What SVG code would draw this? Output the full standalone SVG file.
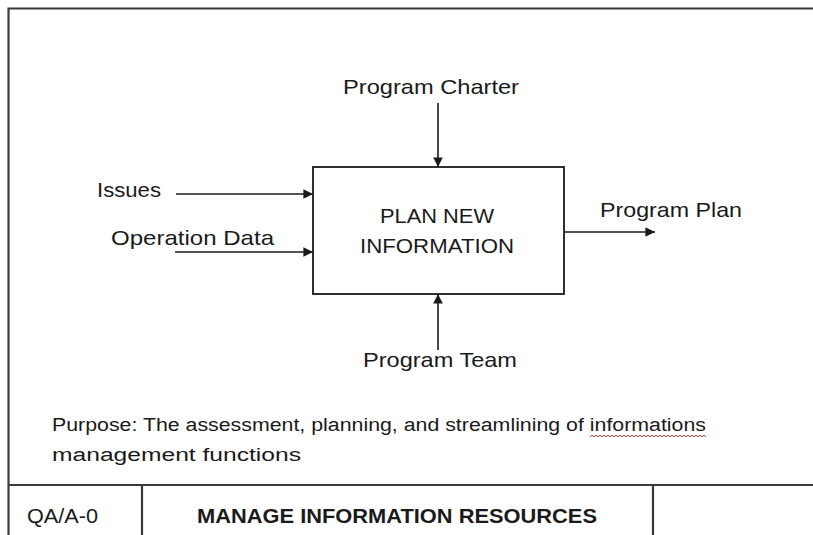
<svg xmlns="http://www.w3.org/2000/svg" width="813" height="535" viewBox="0 0 813 535">
  <style>
    .frame { fill: none; stroke: #3a3a3a; stroke-width: 2.2; }
    .box { fill: #ffffff; stroke: #1a1a1a; stroke-width: 1.8; }
    .wire { fill: none; stroke: #1a1a1a; stroke-width: 1.6; marker-end: url(#head); }
    .lbl { font-family: "Liberation Sans", Arial, sans-serif; font-size: 21px; fill: #1a1a1a; }
    .note { font-family: "Liberation Sans", Arial, sans-serif; font-size: 18px; fill: #1a1a1a; }
    .title { font-family: "Liberation Sans", Arial, sans-serif; font-size: 20px; font-weight: bold; fill: #1a1a1a; }
  </style>
  <defs>
    <marker id="head" viewBox="0 0 10 10" refX="10" refY="5" markerWidth="6" markerHeight="6" markerUnits="strokeWidth" orient="auto">
      <path d="M0,0 L10,5 L0,10 Z" fill="#1a1a1a"/>
    </marker>
  </defs>
  <rect width="813" height="535" fill="#ffffff"/>

  <!-- sheet frame and title block -->
  <g id="frame">
    <path class="frame" d="M8.5,540 V8.5 H820"/>
    <path class="frame" d="M8.5,485 H820"/>
    <path class="frame" d="M142,485 V540"/>
    <path class="frame" d="M653,485 V540"/>
    <text class="lbl" x="27" y="523" textLength="71" lengthAdjust="spacingAndGlyphs">QA/A-0</text>
    <text class="title" x="197" y="523" textLength="400" lengthAdjust="spacingAndGlyphs">MANAGE INFORMATION RESOURCES</text>
  </g>

  <!-- activity box -->
  <g id="plan-new-information">
    <rect class="box" x="313" y="167" width="251" height="127"/>
    <text class="lbl" x="437" y="223" text-anchor="middle" textLength="114" lengthAdjust="spacingAndGlyphs">PLAN NEW</text>
    <text class="lbl" x="437" y="253" text-anchor="middle" textLength="154" lengthAdjust="spacingAndGlyphs">INFORMATION</text>
  </g>

  <!-- ICOM labels -->
  <g id="program-charter">
    <text class="lbl" x="343" y="94" textLength="176" lengthAdjust="spacingAndGlyphs">Program Charter</text>
  </g>
  <g id="issues">
    <text class="lbl" x="97" y="197" textLength="64" lengthAdjust="spacingAndGlyphs">Issues</text>
  </g>
  <g id="operation-data">
    <text class="lbl" x="111" y="245" textLength="163" lengthAdjust="spacingAndGlyphs">Operation Data</text>
  </g>
  <g id="program-plan">
    <text class="lbl" x="600" y="217" textLength="142" lengthAdjust="spacingAndGlyphs">Program Plan</text>
  </g>
  <g id="program-team">
    <text class="lbl" x="363" y="367" textLength="154" lengthAdjust="spacingAndGlyphs">Program Team</text>
  </g>

  <!-- arrows -->
  <g id="connectors">
    <path class="wire" d="M438,103 V167"/>
    <path class="wire" d="M176,194 H313"/>
    <path class="wire" d="M175,252 H313"/>
    <path class="wire" d="M564,232 H655"/>
    <path class="wire" d="M438,350 V294"/>
  </g>

  <!-- purpose note, with the spelling mark under "informations" -->
  <g id="purpose">
    <text class="note" x="52" y="431" textLength="654" lengthAdjust="spacingAndGlyphs">Purpose: The assessment, planning, and streamlining of informations</text>
    <text class="note" x="52" y="461" textLength="249" lengthAdjust="spacingAndGlyphs">management functions</text>
    <path d="M590,437 l2,-2 l2,2 l2,-2 l2,2 l2,-2 l2,2 l2,-2 l2,2 l2,-2 l2,2 l2,-2 l2,2 l2,-2 l2,2 l2,-2 l2,2 l2,-2 l2,2 l2,-2 l2,2 l2,-2 l2,2 l2,-2 l2,2 l2,-2 l2,2 l2,-2 l2,2 l2,-2 l2,2 l2,-2 l2,2 l2,-2 l2,2 l2,-2 l2,2 l2,-2 l2,2 l2,-2 l2,2 l2,-2 l2,2 l2,-2 l2,2 l2,-2 l2,2 l2,-2 l2,2 l2,-2 l2,2 l2,-2 l2,2 l2,-2 l2,2 l2,-2 l2,2 l2,-2 l2,2" fill="none" stroke="#e03a3a" stroke-width="1"/>
  </g>
</svg>
